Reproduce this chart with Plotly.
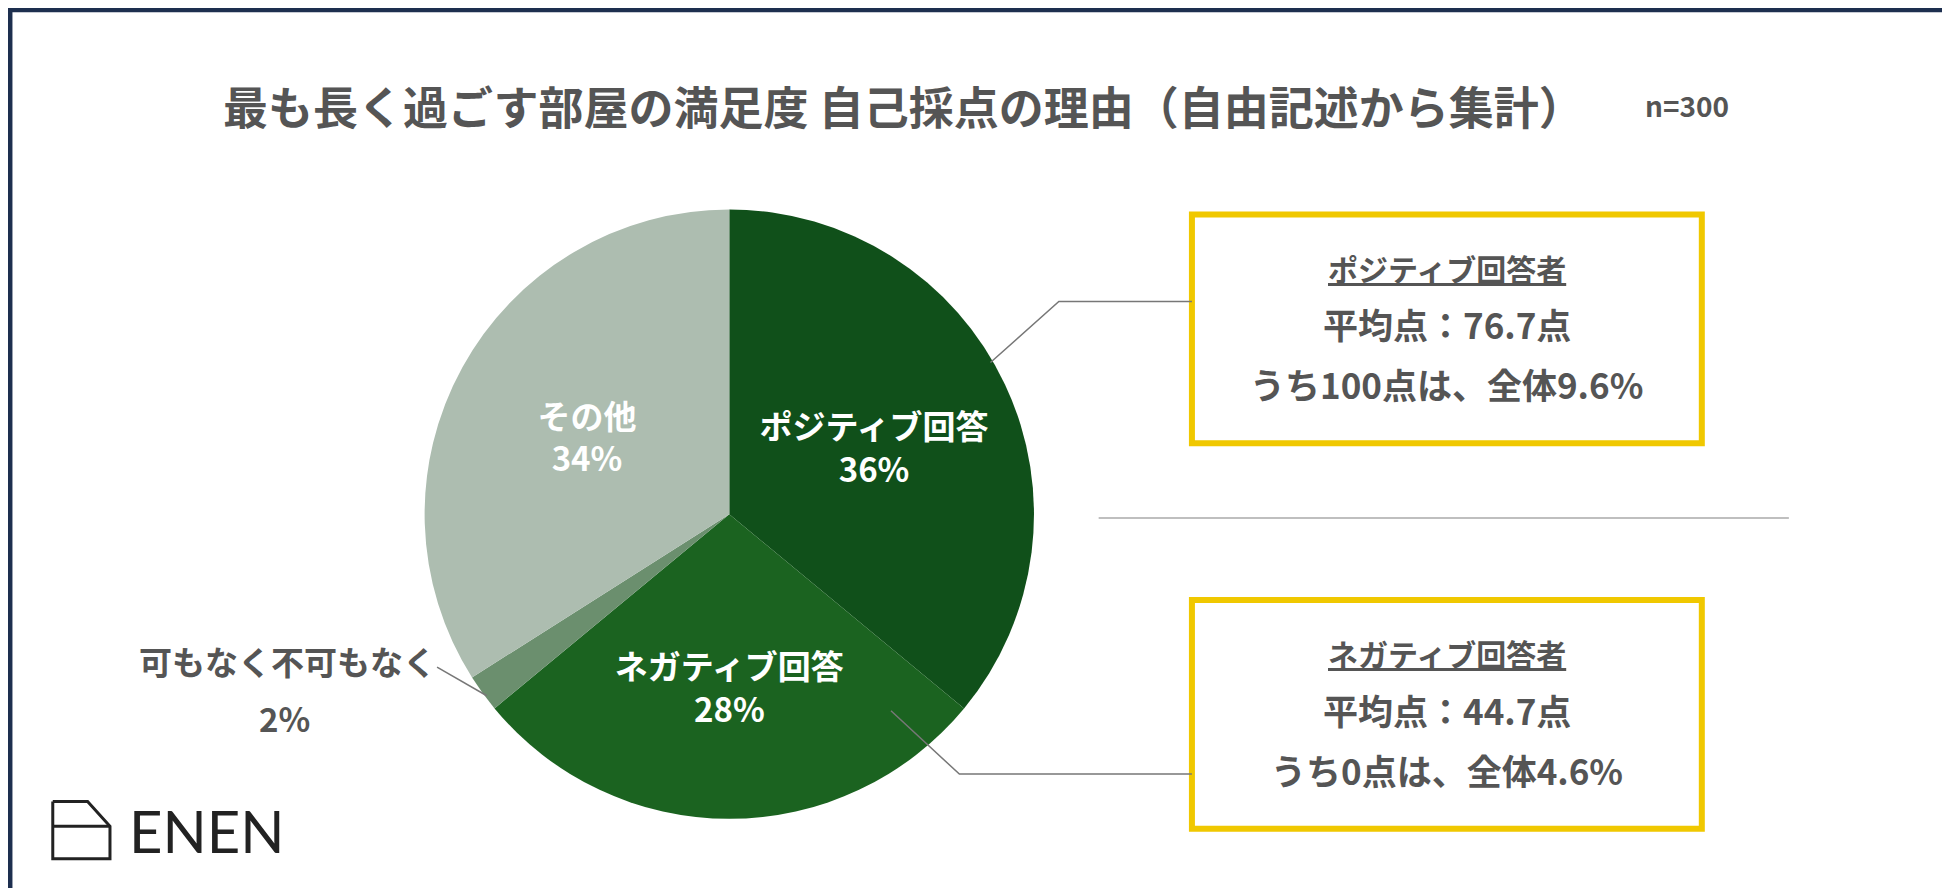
import plotly.graph_objects as go

labels = ["ポジティブ回答", "ネガティブ回答", "可もなく不可もなく", "その他"]
values = [36, 28, 2, 34]
colors = ["#10501a", "#1b6320", "#6b8f6e", "#adbdb0"]
box_titles = ["ポジティブ回答者", "ネガティブ回答者"]
box_avg = ["平均点：76.7点", "平均点：44.7点"]
box_extra = ["うち100点は、全体9.6%", "うち0点は、全体4.6%"]

W, H = 1568, 714  # design coordinates, scaled to paper
def px(x): return x / W
def py(y): return 1 - y / H

FONT = "Noto Sans CJK JP"
texts = [f"<b>{l}<br>{v}%</b>" if l != "可もなく不可もなく" else "" for l, v in zip(labels, values)]

fig = go.Figure(go.Pie(
    labels=labels, values=values, sort=False, direction="clockwise", rotation=0,
    marker=dict(colors=colors, line=dict(color="white", width=0)),
    text=texts, textinfo="text", textposition="inside", insidetextorientation="horizontal",
    textfont=dict(family=FONT, size=33, color="white"),
    domain=dict(x=[px(580 - 245), px(580 + 245)], y=[py(407 + 245), py(407 - 245)]),
    showlegend=False, hoverinfo="label+percent",
))

ann = []
def text(x, y, s, size, color="#555555", anchor="center"):
    ann.append(dict(x=px(x), y=py(y), xref="paper", yref="paper", text=s, showarrow=False,
                    xanchor=anchor, yanchor="middle", font=dict(family=FONT, size=size, color=color)))

text(720, 78, "<b>最も長く過ごす部屋の満足度 自己採点の理由（自由記述から集計）</b>", 45)
text(1350, 78, "<b>n=300</b>", 28)
text(225, 525, "<b>可もなく不可もなく</b>", 33)
text(222, 571, "<b>2%</b>", 33)

shapes = [dict(type="rect", xref="paper", yref="paper", x0=0.001, y0=0.002, x1=0.999, y1=0.998,
               line=dict(color="#1d2f4f", width=5))]
for i, (y0, y1) in enumerate([(166, 350), (476, 660)]):
    shapes.append(dict(type="rect", xref="paper", yref="paper", x0=px(952), x1=px(1362),
                       y0=py(y1), y1=py(y0), line=dict(color="#f0c800", width=6)))
    text(1157, y0 + 43, f"<b><u>{box_titles[i]}</u></b>", 30)
    text(1157, y0 + 88, f"<b>{box_avg[i]}</b>", 35)
    text(1157, y0 + 136, f"<b>{box_extra[i]}</b>", 35)

def line_path(pts, color="#777777", width=1.5):
    d = "M " + " L ".join(f"{px(x)},{py(y)}" for x, y in pts)
    shapes.append(dict(type="path", xref="paper", yref="paper", path=d, line=dict(color=color, width=width)))

line_path([(790, 285), (845, 236), (952, 236)])
line_path([(710, 565), (765, 616), (952, 616)])
line_path([(345, 530), (385, 553)])
line_path([(877, 410), (1432, 410)], color="#aaaaaa")

# logo
line_path([(36, 638), (64, 638), (82, 658), (82, 684), (36, 684), (36, 638)], color="#222222", width=3)
line_path([(36, 658), (82, 658)], color="#222222", width=3)
text(96, 661, "ENEN", 58, color="#222222", anchor="left")
ann[-1]["font"]["family"] = "Lato"

fig.update_layout(width=1950, height=888, margin=dict(l=0, r=0, t=0, b=0),
                  paper_bgcolor="white", plot_bgcolor="white",
                  annotations=ann, shapes=shapes)
fig.write_html("out.html")
